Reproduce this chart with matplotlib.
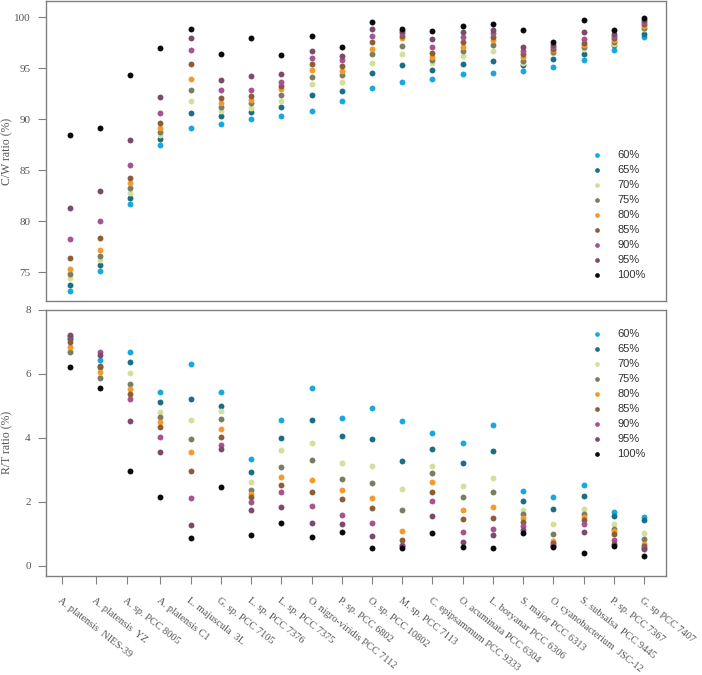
import matplotlib
matplotlib.use('Agg')
import matplotlib.pyplot as plt

# strains along the x axis
strains = ['A. platensis  NIES-39', 'A. platensis  YZ', 'A. sp. PCC 8005', 'A. platensis C1',
           'L. majuscula  3L', 'G. sp. PCC 7105', 'L. sp. PCC 7376', 'L. sp. PCC 7375',
           'O. nigro-viridis PCC 7112', 'P. sp. PCC 6802', 'O. sp. PCC 10802', 'M. sp. PCC 7113',
           'C. epipsammum PCC 9333', 'O. acuminata PCC 6304', 'L. boryanar PCC 6306',
           'S. major PCC 6313', 'O. cyanobacterium  JSC-12', 'S. subsalsa  PCC 9445',
           'P. sp. PCC 7367', 'G. sp PCC 7407']

labels = ['60%', '65%', '70%', '75%', '80%', '85%', '90%', '95%', '100%']
colors = ['#17a8e0', '#1b6f84', '#d4df9a', '#7b7d62', '#f39a2b',
          '#8b5e38', '#a6538f', '#7b4b6c', '#0a0a0a']

# C/W ratio (%)
cw_60 = [73.17, 75.07, 81.67, 87.45, 89.12, 89.48, 90.03, 90.29, 90.78, 91.76, 93.04, 93.63, 93.92, 94.41, 94.58, 94.74, 95.16, 95.78, 96.76, 98.04]
cw_65 = [73.73, 75.69, 82.22, 88.04, 90.65, 90.33, 90.75, 91.21, 92.38, 92.78, 94.51, 95.29, 94.84, 95.42, 95.75, 95.29, 95.92, 96.41, 97.32, 98.40]
cw_70 = [74.40, 76.20, 82.75, 88.40, 91.76, 90.80, 91.14, 91.83, 93.46, 93.69, 95.55, 96.41, 95.49, 96.24, 96.73, 95.49, 96.47, 96.90, 97.42, 98.82]
cw_75 = [74.77, 76.60, 83.20, 88.73, 92.88, 91.18, 91.54, 92.42, 94.15, 94.31, 96.37, 97.22, 95.78, 96.67, 97.25, 95.75, 96.63, 97.12, 97.58, 98.99]
cw_80 = [75.29, 77.12, 83.73, 89.12, 93.99, 91.63, 91.86, 92.94, 94.87, 94.77, 96.93, 97.94, 96.08, 97.12, 97.75, 96.08, 96.80, 97.32, 97.78, 99.15]
cw_85 = [76.37, 78.30, 84.22, 89.61, 95.42, 92.09, 92.29, 93.27, 95.39, 95.26, 97.58, 98.20, 96.54, 97.58, 98.10, 96.37, 96.93, 97.52, 97.94, 99.31]
cw_90 = [78.24, 80.00, 85.52, 90.59, 96.83, 92.84, 92.88, 93.66, 96.05, 95.82, 98.20, 98.43, 97.06, 98.07, 98.46, 96.73, 97.09, 97.88, 98.17, 99.51]
cw_95 = [81.27, 82.97, 87.94, 92.22, 98.00, 93.86, 94.28, 94.44, 96.73, 96.24, 98.82, 98.66, 97.84, 98.53, 98.79, 97.12, 97.29, 98.53, 98.37, 99.74]
cw_100 = [88.46, 89.18, 94.38, 96.99, 98.82, 96.37, 97.94, 96.27, 98.20, 97.09, 99.54, 98.89, 98.63, 99.15, 99.35, 98.73, 97.55, 99.74, 98.76, 99.97]

# R/T ratio (%)
rt_60 = [7.12, 6.43, 6.67, 5.44, 6.30, 5.42, 3.32, 4.55, 5.54, 4.61, 4.92, 4.52, 4.16, 3.83, 4.39, 2.33, 2.16, 2.52, 1.69, 1.53]
rt_65 = [7.08, 6.20, 6.35, 5.13, 5.20, 4.99, 2.93, 3.98, 4.55, 4.04, 3.96, 3.26, 3.66, 3.20, 3.57, 2.03, 1.76, 2.19, 1.54, 1.42]
rt_70 = [6.70, 5.90, 6.03, 4.80, 4.55, 4.83, 2.61, 3.63, 3.85, 3.22, 3.13, 2.39, 3.13, 2.50, 2.74, 1.74, 1.31, 1.77, 1.31, 1.02]
rt_75 = [6.68, 5.86, 5.67, 4.64, 3.95, 4.60, 2.37, 3.08, 3.30, 2.71, 2.57, 1.75, 2.89, 2.15, 2.31, 1.61, 0.98, 1.61, 1.16, 0.83]
rt_80 = [6.82, 6.04, 5.52, 4.49, 3.54, 4.27, 2.25, 2.78, 2.69, 2.38, 2.11, 1.08, 2.61, 1.75, 1.84, 1.49, 0.76, 1.52, 1.10, 0.68]
rt_85 = [7.00, 6.25, 5.38, 4.35, 2.95, 4.01, 2.16, 2.53, 2.31, 2.08, 1.81, 0.81, 2.31, 1.45, 1.49, 1.37, 0.70, 1.44, 0.98, 0.62]
rt_90 = [7.18, 6.68, 5.22, 4.02, 2.13, 3.77, 1.99, 2.29, 1.86, 1.59, 1.32, 0.65, 2.01, 1.04, 1.14, 1.25, 0.65, 1.29, 0.80, 0.56]
rt_95 = [7.22, 6.59, 4.52, 3.56, 1.26, 3.65, 1.74, 1.85, 1.35, 1.30, 0.94, 0.62, 1.55, 0.73, 0.95, 1.12, 0.62, 1.06, 0.68, 0.53]
rt_100 = [6.20, 5.54, 2.95, 2.16, 0.87, 2.46, 0.95, 1.35, 0.91, 1.05, 0.54, 0.54, 1.01, 0.59, 0.54, 1.02, 0.57, 0.40, 0.62, 0.30]

cw_series = [cw_60, cw_65, cw_70, cw_75, cw_80, cw_85, cw_90, cw_95, cw_100]
rt_series = [rt_60, rt_65, rt_70, rt_75, rt_80, rt_85, rt_90, rt_95, rt_100]

serif = 'Liberation Serif'
sans = 'Liberation Sans'
frame_col = '#808080'
text_col = '#555555'

fig = plt.figure(figsize=(7.02, 6.75), dpi=100)
ax1 = fig.add_axes([0.0655, 0.554, 0.8832, 0.4438])
ax2 = fig.add_axes([0.0655, 0.1467, 0.8832, 0.3945])

x = list(range(len(strains)))

#%% scatter both panels
for ax, series in ((ax1, cw_series), (ax2, rt_series)):
    for vals, lab, col in zip(series, labels, colors):
        ax.scatter(x, vals, s=18, color=col, label=lab, linewidths=0, zorder=3)
    for sp in ax.spines.values():
        sp.set_color(frame_col)
        sp.set_linewidth(1.0)
    ax.tick_params(direction='out', length=6, width=0.8, color=frame_col,
                   labelcolor=text_col, labelsize=8, pad=5)
    ax.set_xlim(-0.79, 19.73)
    for t in ax.get_yticklabels():
        t.set_fontfamily(serif)
    leg = ax.legend(frameon=False, scatterpoints=1, handlelength=1.0, handletextpad=1.3,
                    labelspacing=0.45, borderpad=0, borderaxespad=0, markerscale=0.8,
                    loc='upper left', prop={'family': sans, 'size': 8})
    for t in leg.get_texts():
        t.set_color('#333333')
    ax.yaxis.set_label_coords(-0.053, 0.5)

ax1.set_ylim(72.15, 101.55)
ax1.set_yticks([75, 80, 85, 90, 95, 100])
ax1.set_xticks([])
ax1.set_ylabel('C/W ratio (%)', family=serif, size=8.5, color=text_col)
ax1.get_legend().set_bbox_to_anchor((0.88, 0.505))

ax2.set_ylim(-0.32, 8.0)
ax2.set_yticks([0, 2, 4, 6, 8])
# the first few ticks sit a little left of their dots in the original figure
ax2.set_xticks([-0.27, 0.85, 1.89] + x[3:])
ax2.set_xticklabels(strains, rotation=-38, ha='left', va='top', rotation_mode='anchor',
                    family=serif, size=7.5, color=text_col)
ax2.tick_params(axis='x', pad=8)
ax2.set_ylabel('R/T ratio (%)', family=serif, size=8.5, color=text_col)
ax2.get_legend().set_bbox_to_anchor((0.88, 0.928))
for t in ax2.get_yticklabels():
    t.set_fontfamily(serif)

fig.savefig('out.png', dpi=100)
